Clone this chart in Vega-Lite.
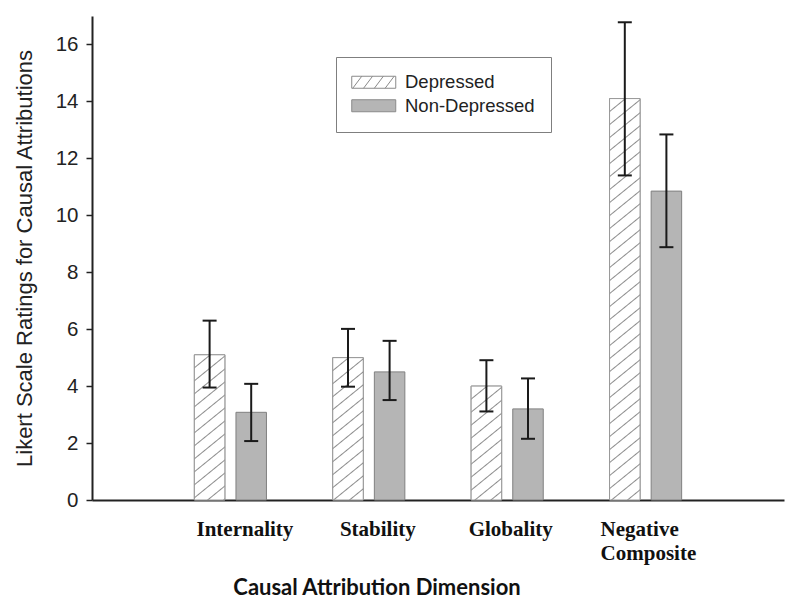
{
"$schema": "https://vega.github.io/schema/vega-lite/v6.json",
"width": 692, "height": 484,
"autosize": {"type": "none"},
"padding": {"left": 92, "top": 16, "right": 16, "bottom": 109},
"background": "white",
"config": {"view": {"stroke": null}, "legend": {"strokeWidth": 1}},
"data": {"values": [
{"dim": "Internality", "group": "Depressed", "mean": 5.1, "lo": 3.95, "hi": 6.3},
{"dim": "Internality", "group": "Non-Depressed", "mean": 3.08, "lo": 2.07, "hi": 4.08},
{"dim": "Stability", "group": "Depressed", "mean": 5.0, "lo": 3.98, "hi": 6.01},
{"dim": "Stability", "group": "Non-Depressed", "mean": 4.5, "lo": 3.51, "hi": 5.59},
{"dim": "Globality", "group": "Depressed", "mean": 4.0, "lo": 3.11, "hi": 4.91},
{"dim": "Globality", "group": "Non-Depressed", "mean": 3.2, "lo": 2.15, "hi": 4.27},
{"dim": "Negative Composite", "group": "Depressed", "mean": 14.1, "lo": 11.4, "hi": 16.78},
{"dim": "Negative Composite", "group": "Non-Depressed", "mean": 10.85, "lo": 8.88, "hi": 12.84}
]},
"encoding": {
"x": {"field": "dim", "type": "nominal", "sort": ["Internality", "Stability", "Globality", "Negative Composite"],
 "scale": {"paddingInner": 0, "paddingOuter": 0.5},
 "axis": {"title": "Causal Attribution Dimension", "titleFont": "Lato", "titleFontWeight": "bold", "titleFontSize": 22, "titleColor": "#111111",
  "titleX": 284.5, "titleY": 94, "titleAlign": "center", "titleBaseline": "alphabetic",
  "labelFont": "Liberation Serif", "labelFontWeight": "bold", "labelFontSize": 21, "labelColor": "#111111", "labelAngle": 0,
  "labelBaseline": "alphabetic", "labelPadding": 35.5, "labelLineHeight": 23.5, "labelExpr": "split(datum.value, ' ')",
  "labelOverlap": false, "labelFlush": false, "labelBound": false,
  "labelOffset": {"condition": [
     {"test": "datum.value === 'Internality'", "value": 14.5},
     {"test": "datum.value === 'Stability'", "value": 9},
     {"test": "datum.value === 'Globality'", "value": 3.5}], "value": -45},
  "labelAlign": {"condition": {"test": "datum.value === 'Negative Composite'", "value": "left"}, "value": "center"},
  "ticks": false, "tickSize": 0, "domainColor": "#222222", "domainWidth": 2}},
"xOffset": {"field": "group", "type": "nominal", "sort": ["Depressed", "Non-Depressed"], "scale": {"paddingInner": 0.267, "paddingOuter": 0.797}}
},
"layer": [
{"mark": {"type": "bar", "stroke": "#808080", "strokeWidth": 1},
 "encoding": {
  "y": {"field": "mean", "type": "quantitative", "scale": {"domain": [0, 17], "nice": false},
   "axis": {"title": "Likert Scale Ratings for Causal Attributions", "titleFont": "Liberation Sans", "titleFontSize": 22, "titleFontWeight": "normal", "titleColor": "#222222",
    "titleX": -68, "titleBaseline": "middle",
    "values": [0, 2, 4, 6, 8, 10, 12, 14, 16], "labelFont": "Liberation Sans", "labelFontSize": 20.5, "labelColor": "#222222", "labelPadding": 8,
    "tickSize": 6, "tickWidth": 1.5, "tickColor": "#222222", "domainColor": "#222222", "domainWidth": 2, "grid": false}},
  "fill": {"field": "group", "type": "nominal", "sort": ["Depressed", "Non-Depressed"], "scale": {"range": ["#ffffff", "#b5b5b5"]},
   "legend": {"orient": "none", "legendX": 244, "legendY": 41, "title": null, "direction": "vertical", "strokeColor": "#7f7f7f",
    "padding": 16, "symbolType": "M-3.67,-1h7.33v2h-7.33z", "symbolSize": 144, "symbolOffset": 12.5, "symbolStrokeColor": "#808080", "symbolStrokeWidth": 1,
    "labelFont": "Liberation Sans", "labelFontSize": 18.5, "labelColor": "#222222", "labelOffset": 22, "rowPadding": 4.5, "symbolOpacity": 1,
    "encode": {"symbols": {"update": {
     "stroke": {"value": "#8a8a8a"},
     "strokeWidth": {"value": 1},
     "shape": [
      {"test": "datum.value === 'Depressed'", "value": "M-3.667,-1H3.667V1H-3.667Z M-3.5,1L-2,-1 M-1.7,1L-0.2,-1 M0.1,1L1.6,-1 M1.9,1L3.4,-1"},
      {"value": "M-3.667,-1H3.667V1H-3.667Z"}],
     "fill": [
      {"test": "datum.value === 'Depressed'", "value": "#ffffff"},
      {"value": "#b5b5b5"}]}}}}}
 }},
{"transform": [{"filter": "datum.group === 'Depressed'"}],
 "mark": {"type": "bar", "stroke": "#999999", "strokeWidth": 1},
 "encoding": {
  "y": {"field": "mean", "type": "quantitative"},
  "fill": {"condition": [
   {"test": "datum.dim === 'Internality'", "value": {"gradient": "linear", "x1": 0, "y1": 0, "x2": 0.4915, "y2": 2.8775, "stops": [
    {"offset":0,"color":"#fff"},
    {"offset":0.0272,"color":"#fff"},{"offset":0.0302,"color":"#8c8c8c"},{"offset":0.0332,"color":"#fff"},
    {"offset":0.0575,"color":"#fff"},{"offset":0.0605,"color":"#8c8c8c"},{"offset":0.0635,"color":"#fff"},
    {"offset":0.0877,"color":"#fff"},{"offset":0.0907,"color":"#8c8c8c"},{"offset":0.0937,"color":"#fff"},
    {"offset":0.1179,"color":"#fff"},{"offset":0.1209,"color":"#8c8c8c"},{"offset":0.1239,"color":"#fff"},
    {"offset":0.1482,"color":"#fff"},{"offset":0.1512,"color":"#8c8c8c"},{"offset":0.1542,"color":"#fff"},
    {"offset":0.1784,"color":"#fff"},{"offset":0.1814,"color":"#8c8c8c"},{"offset":0.1844,"color":"#fff"},
    {"offset":0.2086,"color":"#fff"},{"offset":0.2116,"color":"#8c8c8c"},{"offset":0.2146,"color":"#fff"},
    {"offset":0.2389,"color":"#fff"},{"offset":0.2419,"color":"#8c8c8c"},{"offset":0.2449,"color":"#fff"},
    {"offset":0.2691,"color":"#fff"},{"offset":0.2721,"color":"#8c8c8c"},{"offset":0.2751,"color":"#fff"},
    {"offset":0.2993,"color":"#fff"},{"offset":0.3023,"color":"#8c8c8c"},{"offset":0.3053,"color":"#fff"},
    {"offset":0.3296,"color":"#fff"},{"offset":0.3326,"color":"#8c8c8c"},{"offset":0.3356,"color":"#fff"},
    {"offset":0.3598,"color":"#fff"},{"offset":0.3628,"color":"#8c8c8c"},{"offset":0.3658,"color":"#fff"},
    {"offset":0.39,"color":"#fff"},{"offset":0.393,"color":"#8c8c8c"},{"offset":0.396,"color":"#fff"},
    {"offset":1,"color":"#fff"}]}},
   {"test": "datum.dim === 'Stability'", "value": {"gradient": "linear", "x1": 0, "y1": 0, "x2": 0.5108, "y2": 2.9316, "stops": [
    {"offset":0,"color":"#fff"},
    {"offset":0.0272,"color":"#fff"},{"offset":0.0302,"color":"#8c8c8c"},{"offset":0.0332,"color":"#fff"},
    {"offset":0.0575,"color":"#fff"},{"offset":0.0605,"color":"#8c8c8c"},{"offset":0.0635,"color":"#fff"},
    {"offset":0.0877,"color":"#fff"},{"offset":0.0907,"color":"#8c8c8c"},{"offset":0.0937,"color":"#fff"},
    {"offset":0.1179,"color":"#fff"},{"offset":0.1209,"color":"#8c8c8c"},{"offset":0.1239,"color":"#fff"},
    {"offset":0.1482,"color":"#fff"},{"offset":0.1512,"color":"#8c8c8c"},{"offset":0.1542,"color":"#fff"},
    {"offset":0.1784,"color":"#fff"},{"offset":0.1814,"color":"#8c8c8c"},{"offset":0.1844,"color":"#fff"},
    {"offset":0.2086,"color":"#fff"},{"offset":0.2116,"color":"#8c8c8c"},{"offset":0.2146,"color":"#fff"},
    {"offset":0.2389,"color":"#fff"},{"offset":0.2419,"color":"#8c8c8c"},{"offset":0.2449,"color":"#fff"},
    {"offset":0.2691,"color":"#fff"},{"offset":0.2721,"color":"#8c8c8c"},{"offset":0.2751,"color":"#fff"},
    {"offset":0.2993,"color":"#fff"},{"offset":0.3023,"color":"#8c8c8c"},{"offset":0.3053,"color":"#fff"},
    {"offset":0.3296,"color":"#fff"},{"offset":0.3326,"color":"#8c8c8c"},{"offset":0.3356,"color":"#fff"},
    {"offset":0.3598,"color":"#fff"},{"offset":0.3628,"color":"#8c8c8c"},{"offset":0.3658,"color":"#fff"},
    {"offset":0.39,"color":"#fff"},{"offset":0.393,"color":"#8c8c8c"},{"offset":0.396,"color":"#fff"},
    {"offset":1,"color":"#fff"}]}},
   {"test": "datum.dim === 'Globality'", "value": {"gradient": "linear", "x1": 0, "y1": 0, "x2": 0.7848, "y2": 3.6045, "stops": [
    {"offset":0,"color":"#fff"},
    {"offset":0.0272,"color":"#fff"},{"offset":0.0302,"color":"#8c8c8c"},{"offset":0.0332,"color":"#fff"},
    {"offset":0.0575,"color":"#fff"},{"offset":0.0605,"color":"#8c8c8c"},{"offset":0.0635,"color":"#fff"},
    {"offset":0.0877,"color":"#fff"},{"offset":0.0907,"color":"#8c8c8c"},{"offset":0.0937,"color":"#fff"},
    {"offset":0.1179,"color":"#fff"},{"offset":0.1209,"color":"#8c8c8c"},{"offset":0.1239,"color":"#fff"},
    {"offset":0.1482,"color":"#fff"},{"offset":0.1512,"color":"#8c8c8c"},{"offset":0.1542,"color":"#fff"},
    {"offset":0.1784,"color":"#fff"},{"offset":0.1814,"color":"#8c8c8c"},{"offset":0.1844,"color":"#fff"},
    {"offset":0.2086,"color":"#fff"},{"offset":0.2116,"color":"#8c8c8c"},{"offset":0.2146,"color":"#fff"},
    {"offset":0.2389,"color":"#fff"},{"offset":0.2419,"color":"#8c8c8c"},{"offset":0.2449,"color":"#fff"},
    {"offset":0.2691,"color":"#fff"},{"offset":0.2721,"color":"#8c8c8c"},{"offset":0.2751,"color":"#fff"},
    {"offset":0.2993,"color":"#fff"},{"offset":0.3023,"color":"#8c8c8c"},{"offset":0.3053,"color":"#fff"},
    {"offset":0.3296,"color":"#fff"},{"offset":0.3326,"color":"#8c8c8c"},{"offset":0.3356,"color":"#fff"},
    {"offset":1,"color":"#fff"}]}}],
   "value": {"gradient": "linear", "x1": 0, "y1": 0, "x2": 0.0659, "y2": 1.0672, "stops": [
    {"offset":0,"color":"#fff"},
    {"offset":0.0272,"color":"#fff"},{"offset":0.0302,"color":"#8c8c8c"},{"offset":0.0332,"color":"#fff"},
    {"offset":0.0575,"color":"#fff"},{"offset":0.0605,"color":"#8c8c8c"},{"offset":0.0635,"color":"#fff"},
    {"offset":0.0877,"color":"#fff"},{"offset":0.0907,"color":"#8c8c8c"},{"offset":0.0937,"color":"#fff"},
    {"offset":0.1179,"color":"#fff"},{"offset":0.1209,"color":"#8c8c8c"},{"offset":0.1239,"color":"#fff"},
    {"offset":0.1482,"color":"#fff"},{"offset":0.1512,"color":"#8c8c8c"},{"offset":0.1542,"color":"#fff"},
    {"offset":0.1784,"color":"#fff"},{"offset":0.1814,"color":"#8c8c8c"},{"offset":0.1844,"color":"#fff"},
    {"offset":0.2086,"color":"#fff"},{"offset":0.2116,"color":"#8c8c8c"},{"offset":0.2146,"color":"#fff"},
    {"offset":0.2389,"color":"#fff"},{"offset":0.2419,"color":"#8c8c8c"},{"offset":0.2449,"color":"#fff"},
    {"offset":0.2691,"color":"#fff"},{"offset":0.2721,"color":"#8c8c8c"},{"offset":0.2751,"color":"#fff"},
    {"offset":0.2993,"color":"#fff"},{"offset":0.3023,"color":"#8c8c8c"},{"offset":0.3053,"color":"#fff"},
    {"offset":0.3296,"color":"#fff"},{"offset":0.3326,"color":"#8c8c8c"},{"offset":0.3356,"color":"#fff"},
    {"offset":0.3598,"color":"#fff"},{"offset":0.3628,"color":"#8c8c8c"},{"offset":0.3658,"color":"#fff"},
    {"offset":0.39,"color":"#fff"},{"offset":0.393,"color":"#8c8c8c"},{"offset":0.396,"color":"#fff"},
    {"offset":0.4203,"color":"#fff"},{"offset":0.4233,"color":"#8c8c8c"},{"offset":0.4263,"color":"#fff"},
    {"offset":0.4505,"color":"#fff"},{"offset":0.4535,"color":"#8c8c8c"},{"offset":0.4565,"color":"#fff"},
    {"offset":0.4807,"color":"#fff"},{"offset":0.4837,"color":"#8c8c8c"},{"offset":0.4867,"color":"#fff"},
    {"offset":0.511,"color":"#fff"},{"offset":0.514,"color":"#8c8c8c"},{"offset":0.517,"color":"#fff"},
    {"offset":0.5412,"color":"#fff"},{"offset":0.5442,"color":"#8c8c8c"},{"offset":0.5472,"color":"#fff"},
    {"offset":0.5714,"color":"#fff"},{"offset":0.5744,"color":"#8c8c8c"},{"offset":0.5774,"color":"#fff"},
    {"offset":0.6017,"color":"#fff"},{"offset":0.6047,"color":"#8c8c8c"},{"offset":0.6077,"color":"#fff"},
    {"offset":0.6319,"color":"#fff"},{"offset":0.6349,"color":"#8c8c8c"},{"offset":0.6379,"color":"#fff"},
    {"offset":0.6621,"color":"#fff"},{"offset":0.6651,"color":"#8c8c8c"},{"offset":0.6681,"color":"#fff"},
    {"offset":0.6923,"color":"#fff"},{"offset":0.6953,"color":"#8c8c8c"},{"offset":0.6983,"color":"#fff"},
    {"offset":0.7226,"color":"#fff"},{"offset":0.7256,"color":"#8c8c8c"},{"offset":0.7286,"color":"#fff"},
    {"offset":0.7528,"color":"#fff"},{"offset":0.7558,"color":"#8c8c8c"},{"offset":0.7588,"color":"#fff"},
    {"offset":0.783,"color":"#fff"},{"offset":0.786,"color":"#8c8c8c"},{"offset":0.789,"color":"#fff"},
    {"offset":0.8133,"color":"#fff"},{"offset":0.8163,"color":"#8c8c8c"},{"offset":0.8193,"color":"#fff"},
    {"offset":0.8435,"color":"#fff"},{"offset":0.8465,"color":"#8c8c8c"},{"offset":0.8495,"color":"#fff"},
    {"offset":0.8737,"color":"#fff"},{"offset":0.8767,"color":"#8c8c8c"},{"offset":0.8797,"color":"#fff"},
    {"offset":0.904,"color":"#fff"},{"offset":0.907,"color":"#8c8c8c"},{"offset":0.91,"color":"#fff"},
    {"offset":0.9342,"color":"#fff"},{"offset":0.9372,"color":"#8c8c8c"},{"offset":0.9402,"color":"#fff"},
    {"offset":0.9644,"color":"#fff"},{"offset":0.9674,"color":"#8c8c8c"},{"offset":0.9704,"color":"#fff"},
    {"offset":1,"color":"#fff"}]}}
 }},
{"mark": {"type": "rule", "color": "#1a1a1a", "strokeWidth": 2},
 "encoding": {"y": {"field": "lo", "type": "quantitative"}, "y2": {"field": "hi"}}},
{"mark": {"type": "tick", "orient": "horizontal", "size": 14, "thickness": 2, "color": "#1a1a1a", "opacity": 1},
 "encoding": {"y": {"field": "lo", "type": "quantitative"}}},
{"mark": {"type": "tick", "orient": "horizontal", "size": 14, "thickness": 2, "color": "#1a1a1a", "opacity": 1},
 "encoding": {"y": {"field": "hi", "type": "quantitative"}}}
]
}
